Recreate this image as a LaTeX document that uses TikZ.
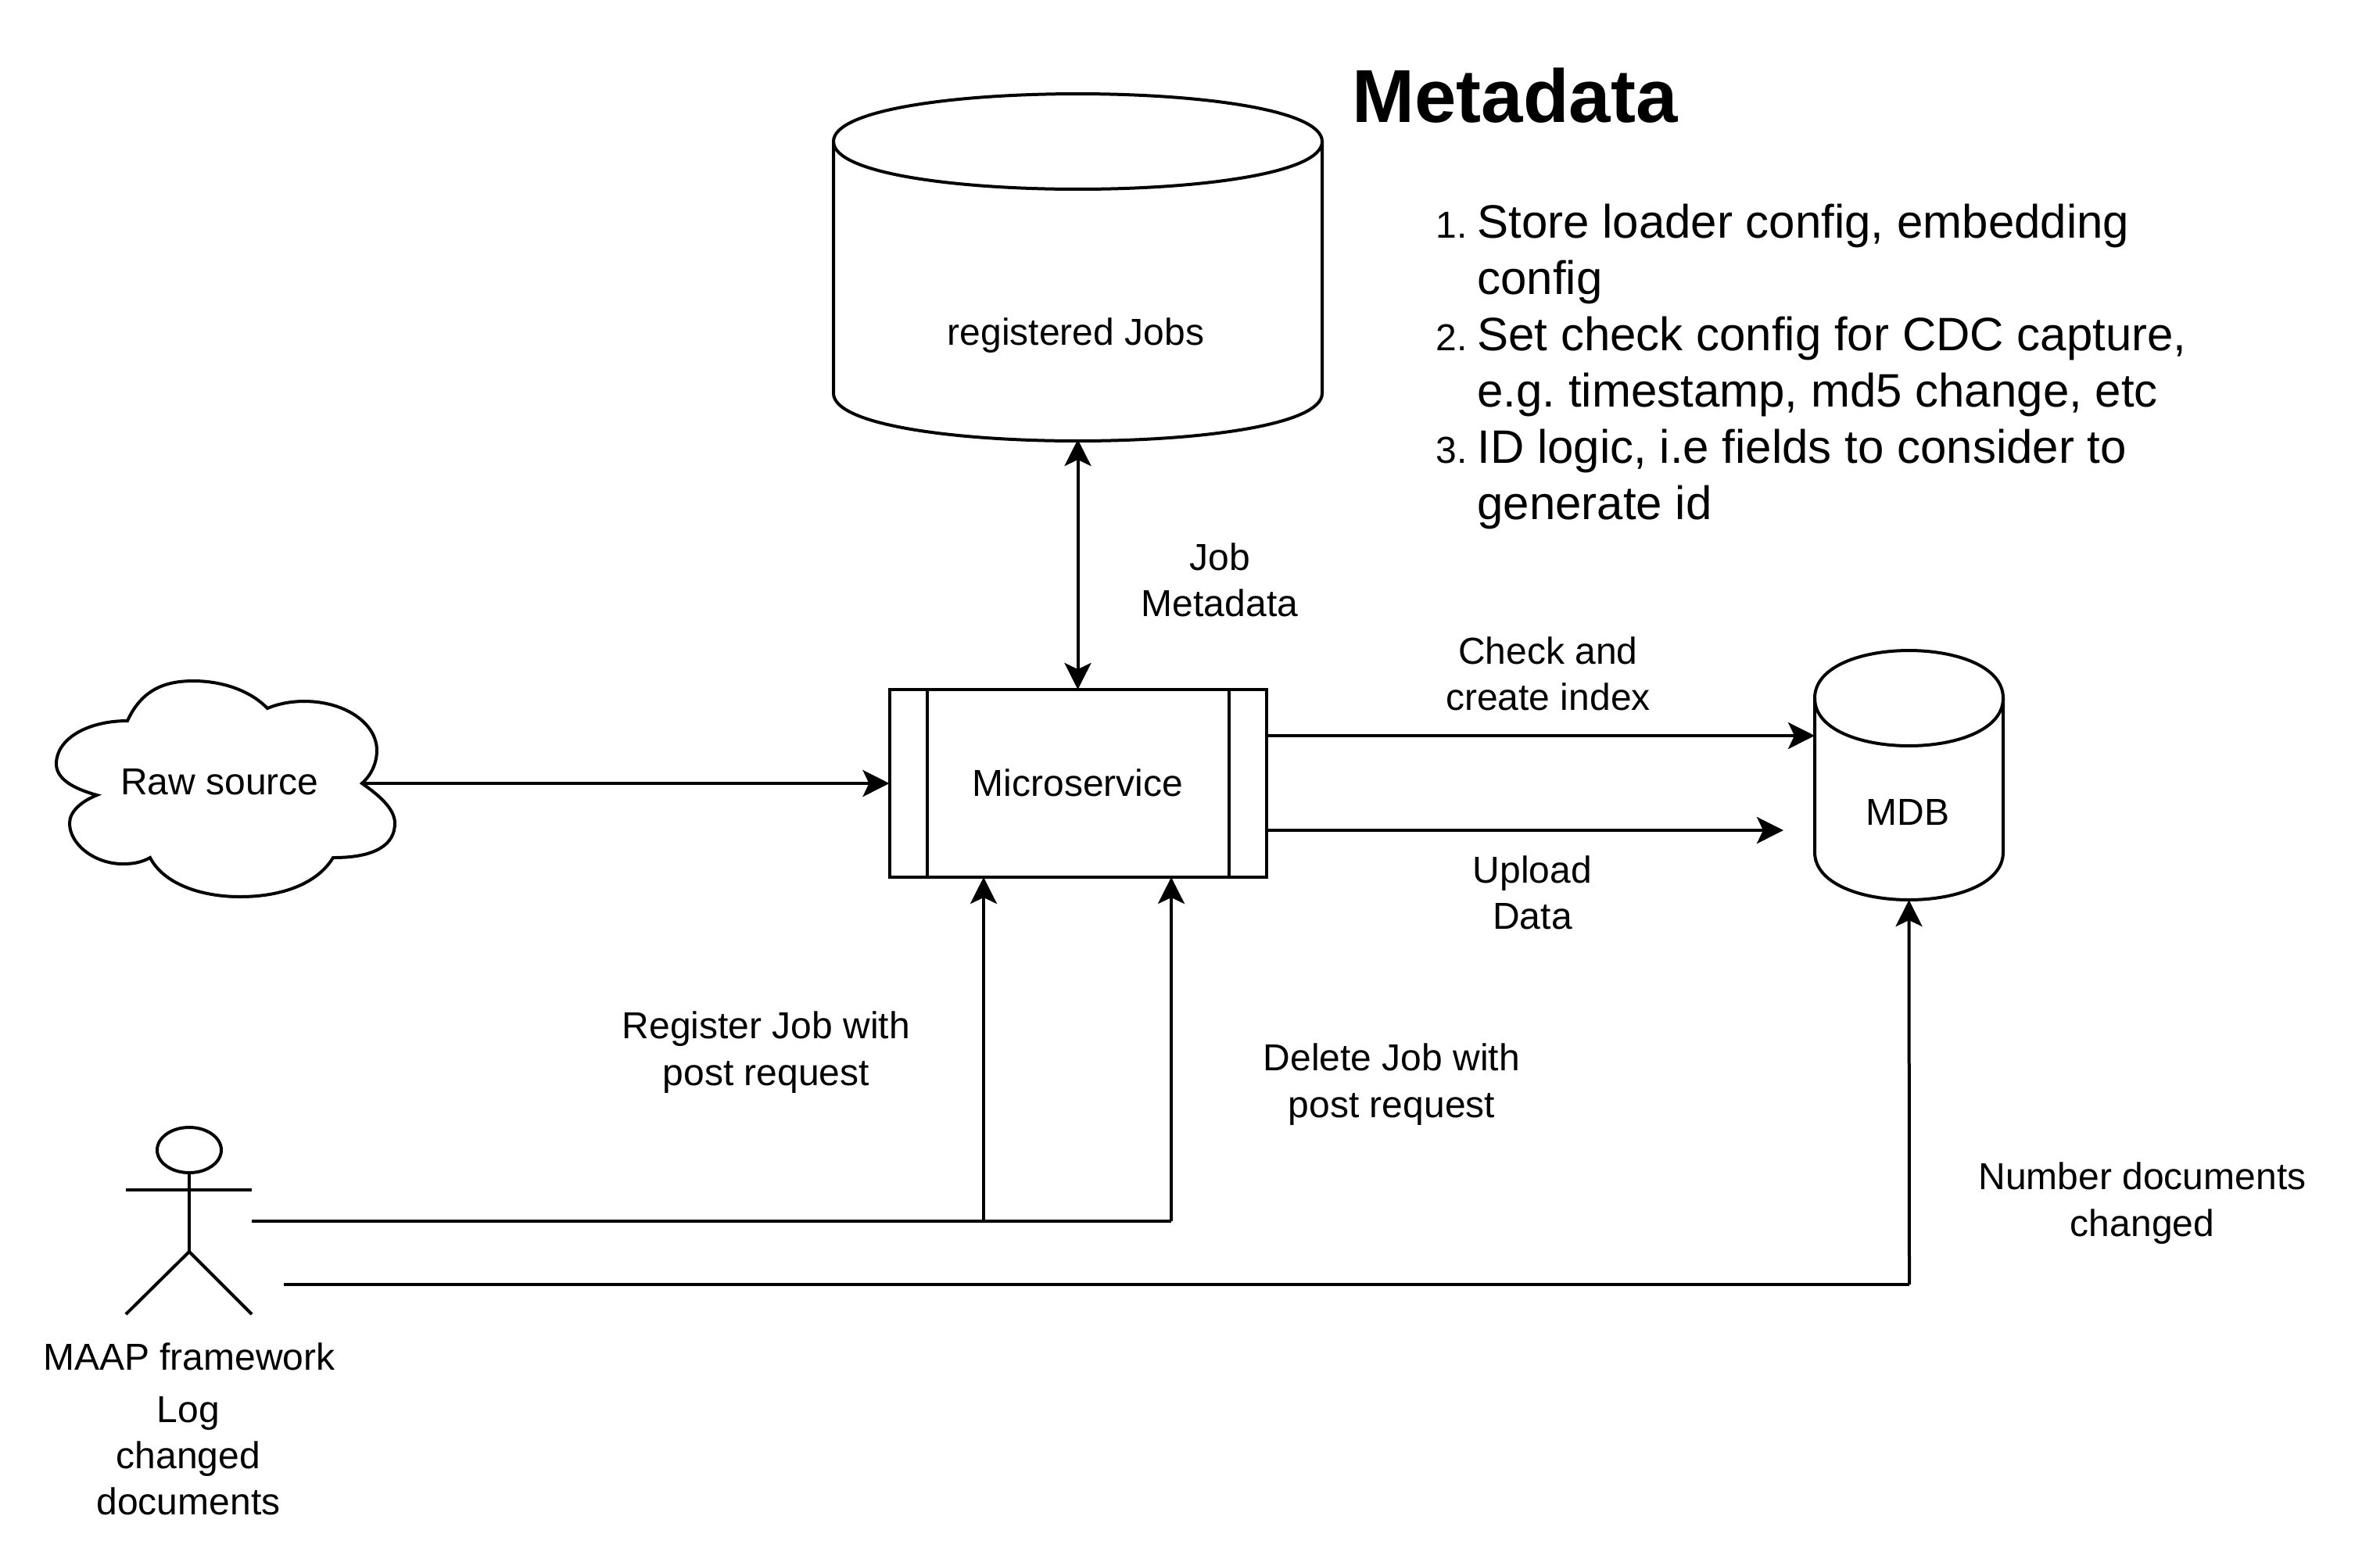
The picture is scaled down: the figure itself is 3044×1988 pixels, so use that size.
\documentclass[tikz,border=0pt]{standalone}
\usepackage{fontspec}
\setmainfont{Liberation Sans}
\usetikzlibrary{arrows.meta,calc,shapes.geometric}
\tikzset{
  shapeline/.style={line width=2pt,draw=black},
  arrowline/.style={line width=2pt,draw=black,-{Stealth[length=17pt,width=17pt,inset=4pt]}},
  bothline/.style={line width=2pt,draw=black,{Stealth[length=17pt,width=17pt,inset=4pt]}-{Stealth[length=17pt,width=17pt,inset=4pt]}},
  plainline/.style={line width=2pt,draw=black},
  lbl/.style={align=center,inner sep=0pt,font=\fontsize{24}{29.6}\selectfont},
}
\newcommand{\drawcyl}[2]{% node, ry (units): single cubic per curve
  \draw[shapeline,line join=round] (#1.north west) -- (#1.south west)
    .. controls ($(#1.south west)+(0,#2*1.333)$) and ($(#1.south east)+(0,#2*1.333)$) .. (#1.south east)
    -- (#1.north east);
  \draw[shapeline,line join=round] (#1.north west)
    .. controls ($(#1.north west)+(0,-#2*1.333)$) and ($(#1.north east)+(0,-#2*1.333)$) .. (#1.north east)
    .. controls ($(#1.north east)+(0,#2*1.333)$) and ($(#1.north west)+(0,#2*1.333)$) .. (#1.north west) -- cycle;
}
\begin{document}
\frenchspacing
\begin{tikzpicture}[x=0.5pt,y=-0.5pt]
\useasboundingbox (0,0) rectangle (3044,1988);

% title and list
\node[anchor=base west,inner sep=0pt,font=\fontsize{48}{57}\bfseries\selectfont] (title) at (1729,156) {Metadata};
\node[anchor=base west,inner sep=0pt,font=\fontsize{30}{36}\selectfont] (list) at (1836,304) {%
  \renewcommand{\arraystretch}{1}%
  \begin{tabular}[t]{@{}r@{\hspace{6.5pt}}l@{}}
  {\fontsize{24}{36}\selectfont 1.} & Store loader config, embedding\\
   & config\\
  {\fontsize{24}{36}\selectfont 2.} & Set check config for CDC capture,\\
   & e.g. timestamp, md5 change, etc\\
  {\fontsize{24}{36}\selectfont 3.} & ID logic, i.e fields to consider to\\
   & generate id
  \end{tabular}};

% registered jobs cylinder
\node[inner sep=0pt,outer sep=0pt,minimum width=312.5pt,minimum height=161pt] (jobs) at (1378.5,342) {};
\coordinate (jobsb) at (1378.5,562);
\drawcyl{jobs}{61}
\node[lbl] (jobst) at (1376,429) {registered Jobs};

% microservice
\node[shapeline,draw,inner sep=0pt,outer sep=0pt,minimum width=241pt,minimum height=120pt,lbl] (ms) at (1378.5,1002) {\raisebox{1pt}{Microservice}};
\draw[plainline] ([xshift=24pt]ms.north west) -- ([xshift=24pt]ms.south west);
\draw[plainline] ([xshift=-24pt]ms.north east) -- ([xshift=-24pt]ms.south east);

% MDB
\node[inner sep=0pt,outer sep=0pt,minimum width=120.5pt,minimum height=98.5pt] (mdb) at (2441.5,991.5) {};
\coordinate (mdbb) at (2441.5,1151);
\drawcyl{mdb}{61}
\node[lbl] (mdbt) at (2440,1039) {MDB};

% cloud
\draw[shapeline,line join=miter]
  (163,922) .. controls (180,885) and (207,871) .. (247,871)
  .. controls (287,871) and (322,885) .. (342,906)
  .. controls (356,900) and (373,897) .. (389,897)
  .. controls (441,897) and (482,925) .. (482,960)
  .. controls (482,975) and (476,990) .. (463,1002)
  .. controls (486,1018) and (505,1035) .. (505,1053)
  .. controls (505,1080) and (481,1097) .. (426,1097)
  .. controls (406,1130) and (361,1147) .. (307,1147)
  .. controls (256,1147) and (209,1130) .. (192,1097)
  .. controls (181,1103) and (171,1105) .. (157,1105)
  .. controls (121,1105) and (89,1080) .. (89,1053)
  .. controls (89,1038) and (104,1025) .. (124,1017)
  .. controls (91,1008) and (72,995) .. (72,977)
  .. controls (72,945) and (112,922) .. (163,922) -- cycle;
\node[lbl] (raw) at (281,1000) {Raw source};
\coordinate (rawout) at (466,1002);

% actor
\node[shapeline,draw,ellipse,inner sep=0pt,outer sep=0pt,minimum width=41pt,minimum height=29pt] (head) at (242,1471) {};
\coordinate (hip) at (242,1601);
\coordinate (armL) at (161,1522);
\coordinate (armR) at (322,1522);
\coordinate (legL) at (161,1681);
\coordinate (legR) at (322,1681);
\draw[plainline] (head.south) -- (hip);
\draw[plainline] (armL) -- (armR);
\draw[plainline] (legL) -- (hip) -- (legR);
\node[lbl] (maap) at (242,1735) {MAAP framework};
\node[lbl] (log) at (241,1862) {Log\\changed\\documents};

\coordinate (actout1) at (322,1562);
\coordinate (actout2) at (363,1643);
\coordinate (branch) at (1258,1562);
\coordinate (corner1) at (1498,1562);
\coordinate (corner2) at (2442,1643);

% connectors
\draw[arrowline] (rawout) -- (rawout -| ms.west);
\draw[bothline] (jobsb) -- (jobsb |- ms.north);
\draw[arrowline] (ms.east |- 0,941) -- (mdb.west |- 0,941);
\coordinate (uploadend) at (2281,1062);
\draw[arrowline] (ms.east |- uploadend) -- (uploadend);
\draw[plainline] (actout1) -- (corner1);
\draw[arrowline] (corner1) -- (corner1 |- ms.south);
\draw[arrowline] (branch) -- (branch |- ms.south);
\draw[plainline] (actout2) -- (corner2);
\draw[arrowline] (corner2) -- (mdbb);

% labels
\node[lbl] (l1) at (1560,742) {Job\\Metadata};
\node[lbl] (l2) at (1980,862) {Check and\\create index};
\node[lbl] (l3) at (1960,1142) {Upload\\Data};
\node[lbl] (l4) at (980,1346) {Register Job with\\post request};
\node[lbl] (l5) at (1780,1387) {Delete Job with\\post request};
\node[lbl] (l6) at (2740,1539) {Number documents\\changed};
\end{tikzpicture}
\end{document}
